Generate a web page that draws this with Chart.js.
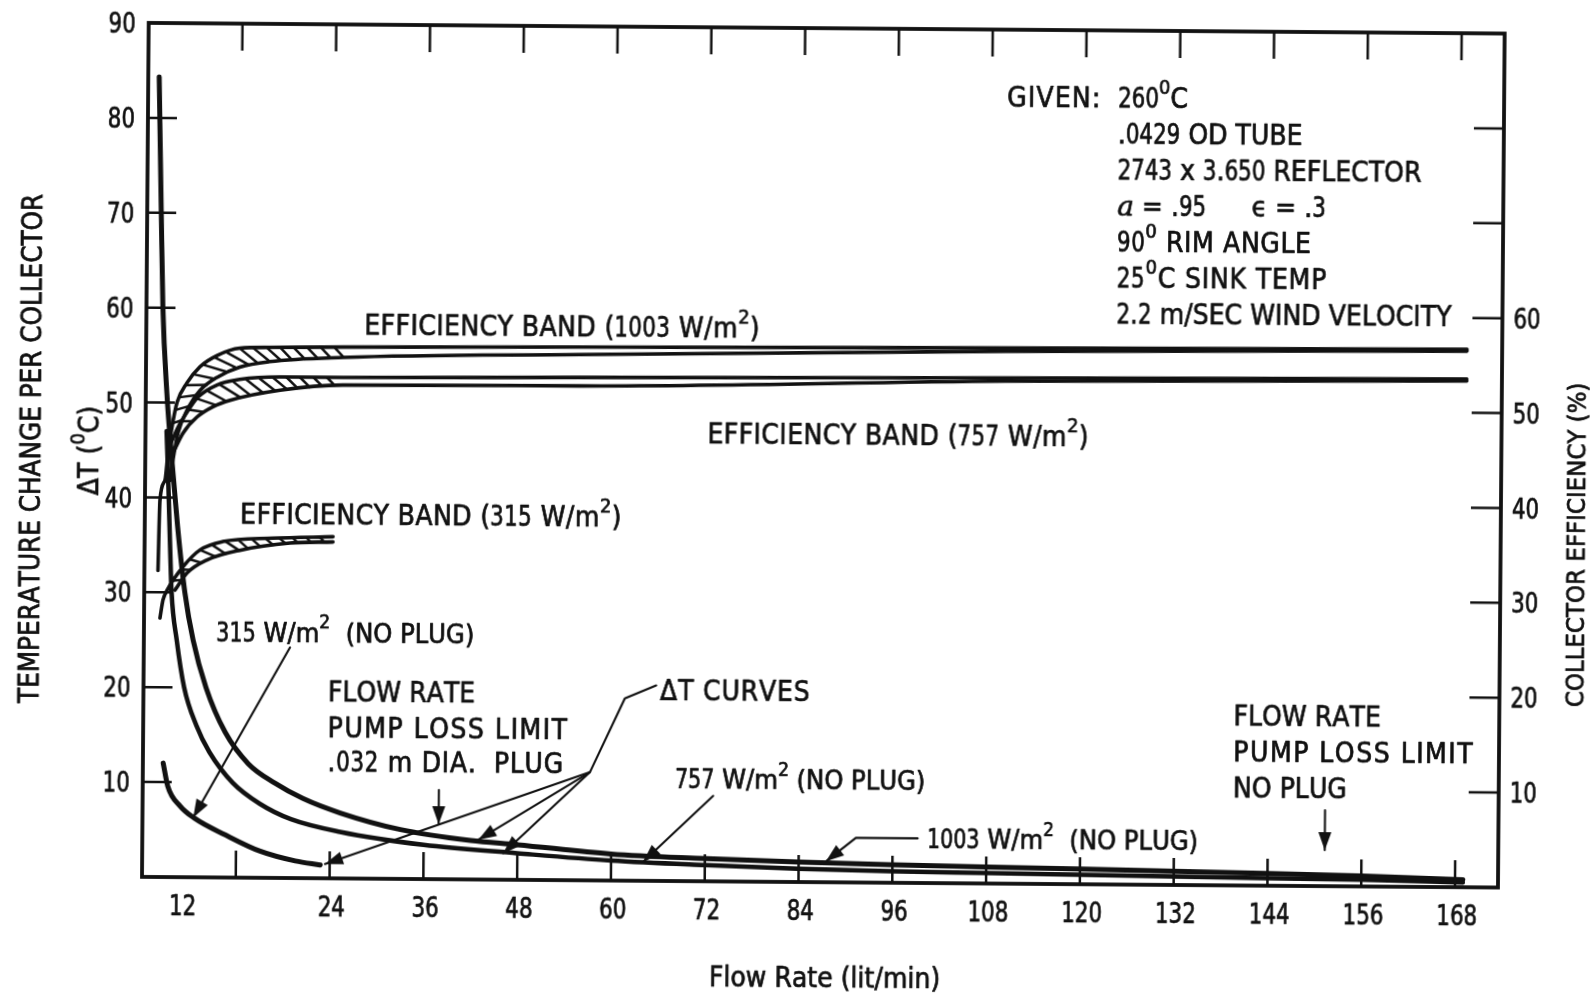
<!DOCTYPE html>
<html>
<head>
<meta charset="utf-8">
<script src="https://cdn.jsdelivr.net/npm/chart.js@4.4.1/dist/chart.umd.min.js"></script>
<style>
  html, body { margin: 0; padding: 0; background: #fff; overflow: hidden; }
  #wrap { width: 1592px; height: 995px; transform: rotate(0.45deg); transform-origin: 50% 50%; }
  canvas { display: block; }
</style>
</head>
<body>
<div id="wrap"><canvas id="chart" width="1592" height="995"></canvas></div>
<script>
// ---- axes -------------------------------------------------------------
const X_TICKS = [12, 24, 36, 48, 60, 72, 84, 96, 108, 120, 132, 144, 156, 168];
const Y_LEFT_TICKS = [10, 20, 30, 40, 50, 60, 70, 80, 90];
const Y_RIGHT_TICKS = [10, 20, 30, 40, 50, 60, 70, 80];
const Y_RIGHT_LABELS = [10, 20, 30, 40, 50, 60];

// ---- ΔT curves (°C) vs flow rate (lit/min), no plug --------------------
const DT_1003_FLOW = [1.4, 1.8, 2.1, 2.7, 3.4, 4.2, 5.2, 6.3, 8.0, 10.5, 13.5, 16.9, 20.5, 25.3, 33.0, 42.0, 48.0, 60.0, 72.0, 84.0, 96.0, 108.0, 120.0, 132.0, 144.0, 156.0, 169.0];
const DT_1003_VALUE = [84.3, 70.0, 60.1, 51.0, 44.0, 37.0, 30.0, 25.0, 20.0, 15.3, 12.0, 10.0, 8.4, 6.9, 5.2, 4.1, 3.7, 2.8, 2.4, 2.1, 1.9, 1.75, 1.6, 1.45, 1.3, 1.1, 0.8];

const DT_757_FLOW = [2.7, 3.0, 3.3, 3.5, 4.2, 5.2, 6.8, 8.5, 11.5, 15.0, 19.0, 25.3, 36.0, 48.0, 60.0, 72.0, 84.0, 96.0, 108.0, 120.0, 132.0, 144.0, 156.0, 169.0];
const DT_757_VALUE = [47.0, 41.0, 34.0, 30.0, 25.0, 20.0, 16.0, 13.2, 10.0, 7.8, 6.2, 4.9, 3.6, 2.8, 2.1, 1.7, 1.4, 1.2, 1.1, 1.0, 0.9, 0.8, 0.7, 0.5];

const DT_315_FLOW = [2.6, 3.2, 4.8, 6.7, 10.6, 15.1, 19.6, 22.8];
const DT_315_VALUE = [12.0, 9.6, 7.5, 6.2, 4.5, 2.8, 1.8, 1.4];

// ---- collector efficiency bands (%) vs flow rate -----------------------
const EFF_1003_HI_FLOW = [1.74, 1.92, 2.54, 2.9, 3.38, 4.0, 5.26, 6.9, 9.07, 12.0, 15.8, 25.2, 55.5, 110.0, 169.0];
const EFF_1003_HI = [32.3, 39.7, 41.8, 44.7, 47.4, 50.0, 52.1, 53.8, 55.0, 55.8, 55.9, 56.0, 56.2, 56.45, 56.7];
const EFF_1003_LO_FLOW = [3.18, 3.55, 4.16, 5.29, 6.93, 9.09, 12.0, 15.8, 25.2, 55.5, 110.0, 169.0];
const EFF_1003_LO = [41.8, 44.0, 46.8, 49.2, 51.3, 52.7, 53.8, 54.4, 54.9, 55.4, 56.1, 56.5];

const EFF_757_HI_FLOW = [3.15, 4.15, 5.29, 6.68, 9.1, 12.0, 17.1, 25.2, 55.5, 110.0, 169.0];
const EFF_757_HI = [45.5, 47.4, 49.0, 50.6, 51.9, 52.5, 52.8, 52.8, 53.0, 53.3, 53.55];
const EFF_757_LO_FLOW = [3.54, 4.8, 6.57, 8.6, 10.8, 17.2, 25.2, 55.5, 110.0, 169.0];
const EFF_757_LO = [44.7, 46.8, 48.5, 49.6, 50.3, 51.4, 52.0, 52.1, 52.95, 53.35];

const EFF_315_HI_FLOW = [2.04, 2.41, 2.91, 4.93, 7.09, 10.0, 16.4, 24.1];
const EFF_315_HI = [27.3, 29.2, 30.2, 32.7, 34.5, 35.4, 35.8, 36.0];
const EFF_315_LO_FLOW = [3.93, 5.45, 8.0, 12.2, 18.6, 24.1];
const EFF_315_LO = [30.25, 32.05, 33.45, 34.5, 35.3, 35.45];

// ---- drawing style ----------------------------------------------------
const INK = '#111';
const FONT = '"DejaVu Sans Condensed", "DejaVu Sans", sans-serif';
const SERIF = '"DejaVu Serif", serif';
const DIGIT_SQUEEZE = 0.85;   // the lettering uses narrow figures
const TEXT_SIZE = 28;

const pts = (xs, ys) => xs.map((x, i) => ({ x, y: ys[i] }));

function curve(label, xs, ys, axis, width) {
  return {
    label, data: pts(xs, ys), yAxisID: axis, showLine: true,
    borderColor: INK, backgroundColor: INK, borderWidth: width,
    pointRadius: 0, pointHoverRadius: 0, cubicInterpolationMode: 'monotone',
    borderCapStyle: 'round', borderJoinStyle: 'round', fill: false
  };
}

// hatched regions between the two edges of each efficiency band
const HATCHES = [
  { hi: 'Efficiency 1003 upper', lo: 'Efficiency 1003 lower', from: 3.4, to: 25.2 },
  { hi: 'Efficiency 757 upper', lo: 'Efficiency 757 lower', from: 4.0, to: 24.6 },
  { hi: 'Efficiency 315 upper', lo: 'Efficiency 315 lower', from: 3.0, to: 24.0 }
];

// text notes placed in data coordinates (flow rate, left-axis value)
const NOTES = [
  { text: 'GIVEN:', x: 109.9, y: 83.0, ls: 1.2 },
  { text: '260^0C', x: 124.1, y: 83.0 },
  { text: '.0429 OD TUBE', x: 124.1, y: 79.2 },
  { text: '2743 x 3.650 REFLECTOR', x: 124.1, y: 75.4 },
  { text: '~a = .95', x: 124.1, y: 71.6 },
  { text: 'ϵ = .3', x: 141.3, y: 71.6 },
  { text: '90^0 RIM ANGLE', x: 124.1, y: 67.8, ls: 0.6 },
  { text: '25^0C SINK TEMP', x: 124.1, y: 64.0, ls: 0.8 },
  { text: '2.2 m/SEC WIND VELOCITY', x: 124.1, y: 60.2 },
  { text: 'EFFICIENCY BAND (1003 W/m^2)', x: 27.9, y: 58.4, ls: 0.4 },
  { text: 'EFFICIENCY BAND (757 W/m^2)', x: 71.9, y: 47.2, ls: 0.4 },
  { text: 'EFFICIENCY BAND (315 W/m^2)', x: 12.2, y: 38.35, ls: 0.4 },
  { text: '315 W/m^2  (NO PLUG)', x: 9.26, y: 25.9, size: 27 },
  { text: 'FLOW RATE', x: 23.6, y: 19.7 },
  { text: 'PUMP LOSS LIMIT', x: 23.6, y: 15.95, ls: 1.5 },
  { text: '.032 m DIA.  PLUG', x: 23.6, y: 12.3, ls: 0.7 },
  { text: 'ΔT CURVES', x: 66.1, y: 20.1, ls: 0.8 },
  { text: '757 W/m^2 (NO PLUG)', x: 68.1, y: 10.8, size: 27 },
  { text: '1003 W/m^2  (NO PLUG)', x: 100.4, y: 4.7, size: 27 },
  { text: 'FLOW RATE', x: 139.5, y: 17.9 },
  { text: 'PUMP LOSS LIMIT', x: 139.5, y: 14.1, ls: 1.5 },
  { text: 'NO PLUG', x: 139.5, y: 10.3 }
];

// leader lines; the last point of each carries an arrowhead when arrow is set
const LEADERS = [
  { path: [[37.9, 9.4], [37.9, 5.8]], arrow: true },
  { path: [[151.3, 8.0], [151.3, 3.8]], arrow: true },
  { path: [[18.7, 24.3], [6.5, 6.3]], arrow: true },
  { path: [[65.6, 20.6], [61.6, 19.2], [57.2, 11.4]], arrow: false },
  { path: [[57.2, 11.4], [43.0, 4.2]], arrow: true },
  { path: [[57.2, 11.4], [46.2, 2.8]], arrow: true },
  { path: [[57.2, 11.4], [23.4, 1.5]], arrow: true },
  { path: [[73.0, 9.0], [64.1, 2.0]], arrow: true },
  { path: [[99.2, 4.7], [91.3, 4.7], [87.5, 2.2]], arrow: true }
];

// ---- rich text: ^c superscript, ~c italic, digits set narrow ------------
function parseRich(str) {
  const parts = [];
  const push = (t, kind) => {
    const last = parts[parts.length - 1];
    if (last && last.kind === kind && (kind === 'n' || kind === 'd')) last.t += t;
    else parts.push({ t, kind });
  };
  for (let i = 0; i < str.length; i++) {
    const c = str[i];
    if (c === '^') parts.push({ t: str[++i], kind: 'sup' });
    else if (c === '~') parts.push({ t: str[++i], kind: 'ital' });
    else push(c, /[0-9]/.test(c) ? 'd' : 'n');
  }
  return parts;
}
function fontFor(kind, size) {
  if (kind === 'sup') return Math.round(size * 0.72) + 'px ' + FONT;
  if (kind === 'ital') return 'italic ' + size + 'px ' + SERIF;
  return size + 'px ' + FONT;
}
function drawRich(ctx, str, x, yMid, size, align, ls) {
  const parts = parseRich(str);
  const spacing = ls || 0;
  let w = 0;
  parts.forEach(p => {
    ctx.font = fontFor(p.kind, size);
    p.sx = p.kind === 'd' ? DIGIT_SQUEEZE : 1;
    p.w = ctx.measureText(p.t).width * p.sx + spacing * p.t.length;
    w += p.w;
  });
  let cx = align === 'center' ? x - w / 2 : align === 'right' ? x - w : x;
  const base = yMid + size * 0.36;
  ctx.textAlign = 'left';
  ctx.textBaseline = 'alphabetic';
  ctx.fillStyle = INK;
  ctx.strokeStyle = INK;
  ctx.lineWidth = 0.7;
  ctx.lineJoin = 'round';
  parts.forEach(p => {
    ctx.font = fontFor(p.kind, size);
    const dy = p.kind === 'sup' ? -size * 0.5 : 0;
    let gx = cx;
    for (const ch of p.t) {
      ctx.save();
      ctx.translate(gx, base + dy);
      ctx.scale(p.sx, 1);
      ctx.fillText(ch, 0, 0);
      ctx.strokeText(ch, 0, 0);
      ctx.restore();
      gx += ctx.measureText(ch).width * p.sx + spacing;
    }
    cx += p.w;
  });
}

// ---- polyline helpers for hatching -------------------------------------
function arcs(poly) {
  const s = [0];
  for (let i = 1; i < poly.length; i++) s.push(s[i - 1] + Math.hypot(poly[i].x - poly[i - 1].x, poly[i].y - poly[i - 1].y));
  return s;
}
function at(poly, s, tbl) {
  if (s <= 0) return poly[0];
  for (let i = 1; i < poly.length; i++) {
    if (s <= tbl[i]) {
      const t = (s - tbl[i - 1]) / (tbl[i] - tbl[i - 1] || 1);
      return { x: poly[i - 1].x + t * (poly[i].x - poly[i - 1].x), y: poly[i - 1].y + t * (poly[i].y - poly[i - 1].y) };
    }
  }
  return poly[poly.length - 1];
}
function nearest(poly, tbl, P) {
  let best = { d: Infinity, s: 0 };
  for (let i = 1; i < poly.length; i++) {
    const A = poly[i - 1], B = poly[i];
    const dx = B.x - A.x, dy = B.y - A.y, L2 = dx * dx + dy * dy || 1;
    let t = ((P.x - A.x) * dx + (P.y - A.y) * dy) / L2;
    t = Math.max(0, Math.min(1, t));
    const Q = { x: A.x + t * dx, y: A.y + t * dy };
    const d = Math.hypot(Q.x - P.x, Q.y - P.y);
    if (d < best.d) best = { d, s: tbl[i - 1] + t * (tbl[i] - tbl[i - 1]), Q };
  }
  return best;
}

function arrowHead(ctx, from, to, len, half) {
  const a = Math.atan2(to.y - from.y, to.x - from.x);
  ctx.beginPath();
  ctx.moveTo(to.x, to.y);
  ctx.lineTo(to.x - len * Math.cos(a) + half * Math.sin(a), to.y - len * Math.sin(a) - half * Math.cos(a));
  ctx.lineTo(to.x - len * Math.cos(a) - half * Math.sin(a), to.y - len * Math.sin(a) + half * Math.cos(a));
  ctx.closePath();
  ctx.fill();
}

const hatchPlugin = {
  id: 'bandHatch',
  beforeDatasetsDraw(chart) {
    const ctx = chart.ctx, xs = chart.scales.x;
    const byLabel = l => chart.data.datasets.findIndex(d => d.label === l);
    ctx.save();
    ctx.beginPath();
    ctx.rect(chart.chartArea.left, chart.chartArea.top, chart.chartArea.width, chart.chartArea.height);
    ctx.clip();
    ctx.strokeStyle = INK;
    ctx.lineWidth = 2.5;
    ctx.lineCap = 'butt';
    HATCHES.forEach(h => {
      const U = chart.getDatasetMeta(byLabel(h.hi)).data.map(p => ({ x: p.x, y: p.y }));
      const L = chart.getDatasetMeta(byLabel(h.lo)).data.map(p => ({ x: p.x, y: p.y }));
      const tu = arcs(U), tl = arcs(L);
      const x0 = xs.getPixelForValue(h.from), x1 = xs.getPixelForValue(h.to);
      for (let s = 0; s <= tu[tu.length - 1]; s += 13.5) {
        const P = at(U, s, tu);
        if (P.x < x0 || P.x > x1) continue;
        const n = nearest(L, tl, P);
        const Q = at(L, n.s + n.d * 0.85, tl);
        ctx.beginPath();
        ctx.moveTo(P.x, P.y);
        ctx.lineTo(Q.x, Q.y);
        ctx.stroke();
      }
    });
    ctx.restore();
  }
};

const framePlugin = {
  id: 'frameAndNotes',
  afterDatasetsDraw(chart) {
    const ctx = chart.ctx, a = chart.chartArea;
    const xs = chart.scales.x, yl = chart.scales.y, yr = chart.scales.y2;
    const px = v => xs.getPixelForValue(v), py = v => yl.getPixelForValue(v);
    ctx.save();
    ctx.strokeStyle = INK;
    ctx.fillStyle = INK;

    // frame
    ctx.lineWidth = 3.8;
    ctx.lineJoin = 'miter';
    ctx.strokeRect(a.left, a.top, a.right - a.left, a.bottom - a.top);

    // inward tick marks
    ctx.lineWidth = 2.5;
    ctx.beginPath();
    X_TICKS.forEach(v => {
      const x = px(v);
      ctx.moveTo(x, a.bottom); ctx.lineTo(x, a.bottom - 27);
      ctx.moveTo(x, a.top); ctx.lineTo(x, a.top + 27);
    });
    Y_LEFT_TICKS.forEach(v => {
      if (v >= yl.max) return;
      const y = py(v);
      ctx.moveTo(a.left, y); ctx.lineTo(a.left + 29, y);
    });
    Y_RIGHT_TICKS.forEach(v => {
      const y = yr.getPixelForValue(v);
      ctx.moveTo(a.right, y); ctx.lineTo(a.right - 30, y);
    });
    ctx.stroke();

    // tick labels
    Y_LEFT_TICKS.forEach(v => drawRich(ctx, String(v), a.left - 13, py(v), 28, 'right'));
    Y_RIGHT_LABELS.forEach(v => drawRich(ctx, String(v), a.right + 11, yr.getPixelForValue(v), 28, 'left'));
    X_TICKS.forEach((v, i) => {
      // the first flow-rate label sits left of its tick
      const shift = i === 0 ? -53 : 2;
      drawRich(ctx, String(v), px(v) + shift, a.bottom + 28, 28, 'center');
    });

    // axis titles
    const midY = (a.top + a.bottom) / 2;
    ctx.save();
    ctx.translate(a.left - 115, midY + 1);
    ctx.rotate(-Math.PI / 2);
    drawRich(ctx, 'TEMPERATURE CHANGE PER COLLECTOR', 0, 0, 27.5, 'center');
    ctx.restore();
    ctx.save();
    ctx.translate(a.left - 57, midY + 1);
    ctx.rotate(-Math.PI / 2);
    drawRich(ctx, 'ΔT (^0C)', 0, 0, 28, 'center');
    ctx.restore();
    ctx.save();
    ctx.translate(a.right + 75, midY + 84);
    ctx.rotate(-Math.PI / 2);
    drawRich(ctx, 'COLLECTOR EFFICIENCY (%)', 0, 0, 25.5, 'center');
    ctx.restore();
    drawRich(ctx, 'Flow Rate (lit/min)', (a.left + a.right) / 2 + 5, a.bottom + 95, 28, 'center');

    // notes
    NOTES.forEach(n => drawRich(ctx, n.text, px(n.x), py(n.y), n.size || TEXT_SIZE, 'left', n.ls));

    // leaders and arrows
    ctx.lineWidth = 2.1;
    ctx.lineCap = 'round';
    ctx.lineJoin = 'round';
    LEADERS.forEach(l => {
      const p = l.path.map(([x, y]) => ({ x: px(x), y: py(y) }));
      ctx.beginPath();
      p.forEach((q, i) => (i ? ctx.lineTo(q.x, q.y) : ctx.moveTo(q.x, q.y)));
      ctx.stroke();
      if (l.arrow) arrowHead(ctx, p[p.length - 2], p[p.length - 1], 18, 6.5);
    });
    ctx.restore();
  }
};

new Chart(document.getElementById('chart'), {
  type: 'scatter',
  data: {
    datasets: [
      curve('ΔT 1003 W/m2', DT_1003_FLOW, DT_1003_VALUE, 'y', 5),
      curve('ΔT 757 W/m2', DT_757_FLOW, DT_757_VALUE, 'y', 4.5),
      curve('ΔT 315 W/m2', DT_315_FLOW, DT_315_VALUE, 'y', 5),
      curve('Efficiency 1003 upper', EFF_1003_HI_FLOW, EFF_1003_HI, 'y2', 3.6),
      curve('Efficiency 1003 lower', EFF_1003_LO_FLOW, EFF_1003_LO, 'y2', 3.6),
      curve('Efficiency 757 upper', EFF_757_HI_FLOW, EFF_757_HI, 'y2', 3.6),
      curve('Efficiency 757 lower', EFF_757_LO_FLOW, EFF_757_LO, 'y2', 3.6),
      curve('Efficiency 315 upper', EFF_315_HI_FLOW, EFF_315_HI, 'y2', 3.6),
      curve('Efficiency 315 lower', EFF_315_LO_FLOW, EFF_315_LO, 'y2', 3.6)
    ]
  },
  options: {
    responsive: false,
    animation: false,
    devicePixelRatio: 1,
    events: [],
    layout: { padding: { left: 145, right: 91, top: 28, bottom: 113 } },
    scales: {
      x: { type: 'linear', min: 0, max: 173.5, display: false },
      y: { type: 'linear', min: 0, max: 90, display: false },
      y2: { type: 'linear', position: 'right', min: 0, max: 90, display: false }
    },
    plugins: { legend: { display: false }, tooltip: { enabled: false } }
  },
  plugins: [hatchPlugin, framePlugin]
});
</script>
</body>
</html>
